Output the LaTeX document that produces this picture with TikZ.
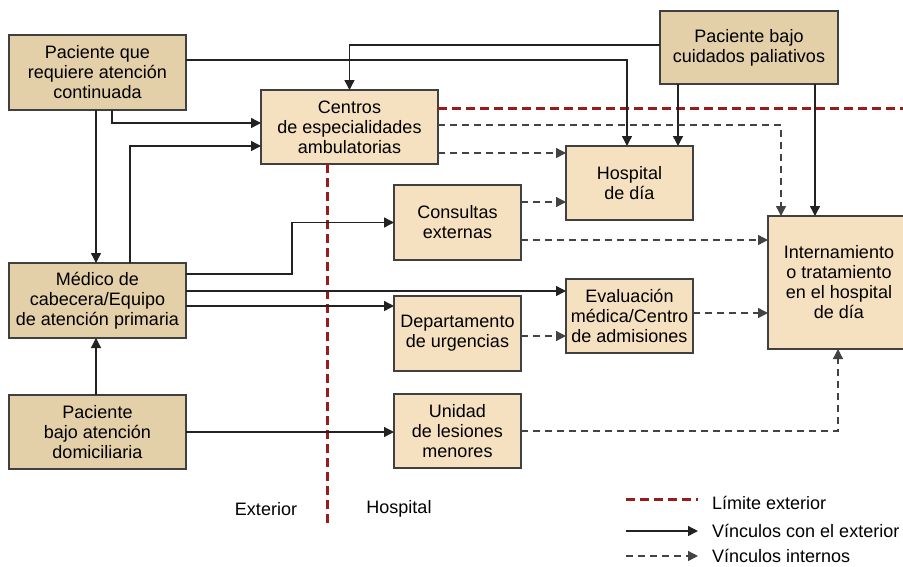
\documentclass[tikz,border=0pt]{standalone}
\usepackage{fontspec}
\setmainfont{Liberation Sans}
\usetikzlibrary{arrows.meta}
\definecolor{darkfill}{HTML}{E3CFA8}
\definecolor{lightfill}{HTML}{F5E0BF}
\definecolor{boxline}{HTML}{404040}
\definecolor{linkcol}{HTML}{222222}
\definecolor{limitcol}{HTML}{9B1B1B}
\tikzset{
  box/.style={draw=boxline, line width=1.6pt, inner sep=0pt, outer sep=0pt, align=center,
    font=\fontsize{18}{20}\selectfont},
  darkbox/.style={box, fill=darkfill},
  lightbox/.style={box, fill=lightfill},
  extlink/.style={draw=linkcol, line width=1.4pt, -{Triangle[length=10pt,width=10pt]}},
  intlink/.style={draw=linkcol!85, line width=1.4pt, dash pattern=on 7pt off 5pt, -{Triangle[length=10pt,width=10pt]}},
  limitline/.style={draw=limitcol, line width=3pt, dash pattern=on 9pt off 5pt},
  lbl/.style={font=\fontsize{18}{20}\selectfont, inner sep=0pt}
}
\begin{document}
\begin{tikzpicture}[x=1pt,y=-1pt]
\useasboundingbox (0,0) rectangle (903,566);
\begin{scope}
\clip (0,0) rectangle (903,566);
% boxes
\node[darkbox, minimum width=177pt, minimum height=75pt] (pq) at (97.5,72.5) {Paciente que\\requiere atención\\continuada};
\node[lightbox, minimum width=177pt, minimum height=74pt] (centros) at (349.5,127) {Centros\\de especialidades\\ambulatorias};
\node[darkbox, minimum width=178pt, minimum height=73pt] (pal) at (749,47.5) {Paciente bajo\\cuidados paliativos};
\node[lightbox, minimum width=127pt, minimum height=74pt] (hd) at (629.5,183) {Hospital\\de día};
\node[lightbox, minimum width=127pt, minimum height=75pt] (cons) at (457.5,222.5) {Consultas\\externas};
\node[lightbox, minimum width=142pt, minimum height=133pt] (intern) at (839,282.5) {Internamiento\\o tratamiento\\en el hospital\\de día};
\node[darkbox, minimum width=177pt, minimum height=75pt] (med) at (97.5,300.5) {Médico de\\cabecera/Equipo\\de atención primaria};
\node[lightbox, minimum width=127pt, minimum height=75pt] (urg) at (457.5,333.5) {Departamento\\de urgencias};
\node[lightbox, minimum width=127pt, minimum height=74pt] (eval) at (629.5,316) {Evaluación\\médica/Centro\\de admisiones};
\node[darkbox, minimum width=177pt, minimum height=74pt] (dom) at (97.5,432) {Paciente\\bajo atención\\domiciliaria};
\node[lightbox, minimum width=127pt, minimum height=74pt] (uni) at (457.5,431) {Unidad\\de lesiones\\menores};

% boundary
\draw[limitline] (centros.east |- 0,108) -- (903,108);
\coordinate (limend) at (327,523);
\draw[limitline] (327,0 |- centros.south) -- (limend);

% external links
\draw[extlink] (pq.east |- 0,60) -| (627,0 |- hd.north);
\draw[extlink] (pal.west |- 0,45) -| (centros.north);
\draw[extlink] (678,0 |- pal.south) -- (678,0 |- hd.north);
\draw[extlink] (815,0 |- pal.south) -- (815,0 |- intern.north);
\draw[extlink] (112,0 |- pq.south) |- (centros.west |- 0,123);
\draw[extlink] (96,0 |- pq.south) -- (96,0 |- med.north);
\draw[extlink] (130,0 |- med.north) |- (centros.west |- 0,146);
\draw[extlink] (med.east |- 0,274) -| (292,0 |- cons.west) -- (cons.west);
\draw[extlink] (med.east |- 0,291) -- (eval.west |- 0,291);
\draw[extlink] (med.east |- 0,306) -- (urg.west |- 0,306);
\draw[extlink] (96,0 |- dom.north) -- (96,0 |- med.south);
\draw[extlink] (dom.east |- 0,432) -- (uni.west |- 0,432);

% internal links
\draw[intlink] (centros.east |- 0,125) -| (781,0 |- intern.north);
\draw[intlink] (centros.east |- 0,153) -- (hd.west |- 0,153);
\draw[intlink] (cons.east |- 0,202) -- (hd.west |- 0,202);
\draw[intlink] (cons.east |- 0,240) -- (intern.west |- 0,240);
\draw[intlink] (urg.east |- 0,336) -- (eval.west |- 0,336);
\draw[intlink] (eval.east |- 0,313) -- (intern.west |- 0,313);
\draw[intlink] (uni.east |- 0,431) -| (838,0 |- intern.south);

% region labels
\node[lbl] (ext) at (266,509) {Exterior};
\node[lbl] (hosp) at (399,509) {Hospital};

% legend
\coordinate (la1) at (626,499); \coordinate (la2) at (698,499);
\coordinate (lb1) at (626,531); \coordinate (lb2) at (698,531);
\coordinate (lc1) at (626,556); \coordinate (lc2) at (698,556);
\draw[limitline] (la1) -- (la2);
\draw[extlink] (lb1) -- (lb2);
\draw[intlink] (lc1) -- (lc2);
\node[lbl, anchor=west] (t1) at (712,503) {Límite exterior};
\node[lbl, anchor=west] (t2) at (712,531) {Vínculos con el exterior};
\node[lbl, anchor=west] (t3) at (712,556) {Vínculos internos};
\end{scope}
\end{tikzpicture}
\end{document}
